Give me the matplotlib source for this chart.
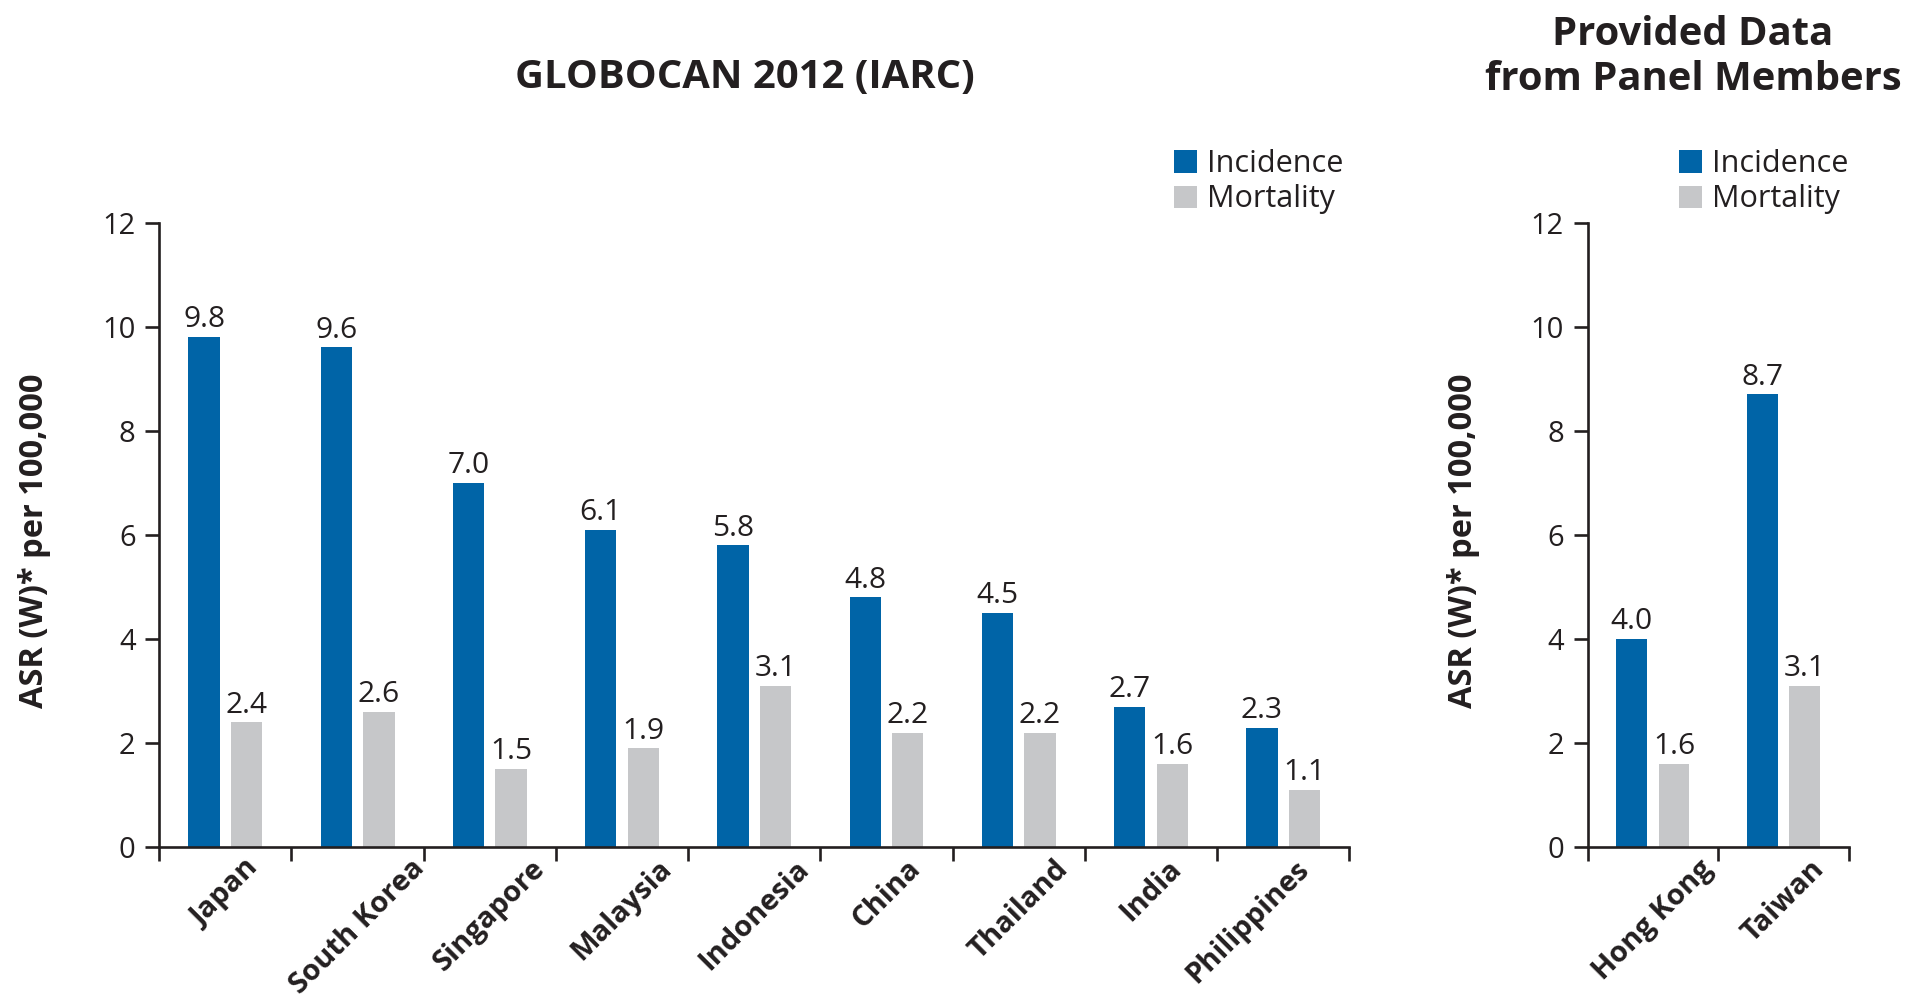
import matplotlib
matplotlib.use("Agg")
import matplotlib.pyplot as plt
import matplotlib.transforms as mtransforms
import numpy as np

plt.rcParams['font.family'] = ['Open Sans', 'DejaVu Sans']

# ---- data ----
left_countries = ["Japan", "South Korea", "Singapore", "Malaysia", "Indonesia",
                  "China", "Thailand", "India", "Philippines"]
left_incidence = [9.8, 9.6, 7.0, 6.1, 5.8, 4.8, 4.5, 2.7, 2.3]
left_mortality = [2.4, 2.6, 1.5, 1.9, 3.1, 2.2, 2.2, 1.6, 1.1]

right_countries = ["Hong Kong", "Taiwan"]
right_incidence = [4.0, 8.7]
right_mortality = [1.6, 3.1]

series_names = ["Incidence", "Mortality"]
y_ticks = [0, 2, 4, 6, 8, 10, 12]

title_left = "GLOBOCAN 2012 (IARC)"
title_right = "Provided Data\nfrom Panel Members"
y_label = "ASR (W)* per 100,000"

# ---- style ----
BLUE = "#0064A7"
GRAY = "#C6C7C9"
TXT = "#231F20"
W, H, DPI = 1906, 1000, 100
BAR_W = 0.237
OFF = 0.161

fig = plt.figure(figsize=(W / DPI, H / DPI), dpi=DPI)


def px_rect(x0, x1, y_top, y_bot):
    return [x0 / W, 1 - y_bot / H, (x1 - x0) / W, (y_bot - y_top) / H]


ax_l = fig.add_axes(px_rect(159.2, 1349.3, 222.5, 847.3))
ax_r = fig.add_axes(px_rect(1587.6, 1849.0, 222.5, 847.3))

cat_labels = []


def draw(ax, countries, inc, mort):
    n = len(countries)
    centers = np.arange(n) + 0.5
    b1 = ax.bar(centers - OFF, inc, width=BAR_W, color=BLUE, label=series_names[0])
    b2 = ax.bar(centers + OFF, mort, width=BAR_W, color=GRAY, label=series_names[1])
    for bars, vals in ((b1, inc), (b2, mort)):
        for rect, v in zip(bars, vals):
            ax.annotate(f"{v:.1f}", (rect.get_x() + rect.get_width() / 2, v),
                        xytext=(0, 2), textcoords="offset points",
                        ha="center", va="bottom", fontsize=21.5, color=TXT)
    ax.set_xlim(0, n)
    ax.set_ylim(0, 12)
    ax.set_yticks(y_ticks)
    ax.set_xticks(np.arange(n + 1))
    ax.set_xticklabels([])
    ax.spines["top"].set_visible(False)
    ax.spines["right"].set_visible(False)
    for s in ("left", "bottom"):
        ax.spines[s].set_linewidth(1.9)
        ax.spines[s].set_color(TXT)
    ax.tick_params(axis="y", length=10, width=1.9, pad=7, labelsize=21,
                   colors=TXT, direction="out")
    ax.tick_params(axis="x", length=10, width=1.9, direction="out", colors=TXT)
    ax.set_ylabel(y_label, fontsize=23.5, fontweight="bold", color=TXT)
    # category labels (centred under each group, rotated 45 degrees)
    offset = mtransforms.ScaledTranslation(0, -7 / DPI, fig.dpi_scale_trans)
    trans = mtransforms.blended_transform_factory(ax.transData, ax.transAxes) + offset
    for c, name in zip(centers, countries):
        t = ax.text(c, 0, name, transform=trans, rotation=45,
                    ha="center", va="top", fontsize=21, fontweight="bold", color=TXT)
        cat_labels.append((ax, t))
    return b1, b2


h_l = draw(ax_l, left_countries, left_incidence, left_mortality)
h_r = draw(ax_r, right_countries, right_incidence, right_mortality)

ax_l.yaxis.set_label_coords(51 / W, 1 - 541 / H, transform=fig.transFigure)
ax_r.yaxis.set_label_coords(1480 / W, 1 - 541 / H, transform=fig.transFigure)

fig.text(745 / W, 1 - 78 / H, title_left, ha="center", va="center",
         fontsize=28.8, fontweight="bold", color=TXT)
fig.text(1693 / W, 1 - 57 / H, title_right, ha="center", va="center",
         fontsize=28.8, fontweight="bold", color=TXT, linespacing=1.17)

for ax, x in ((ax_l, 1174), (ax_r, 1679)):
    ax.legend(loc="upper left", bbox_to_anchor=(x / W, 1 - 149 / H),
              bbox_transform=fig.transFigure, frameon=False, fontsize=22,
              handlelength=0.75, handleheight=0.75, handletextpad=0.32,
              labelspacing=0.18, borderpad=0, borderaxespad=0,
              labelcolor=TXT)

# pull a category label back when it runs to the very end of its axis
fig.canvas.draw()
renderer = fig.canvas.get_renderer()
for ax, t in cat_labels:
    bb = t.get_window_extent(renderer)
    ax_right = ax.get_window_extent(renderer).x1
    if bb.x1 > ax_right - 15:
        shift = (ax_right - 34 - bb.x1) / DPI
        t.set_transform(t.get_transform() +
                        mtransforms.ScaledTranslation(shift, 0, fig.dpi_scale_trans))

fig.savefig("out.png", dpi=DPI)
